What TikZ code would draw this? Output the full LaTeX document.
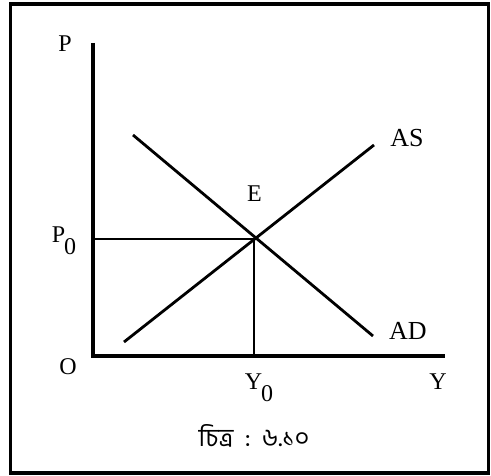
\documentclass[tikz,border=0pt]{standalone}
\usepackage{fontspec}
\setmainfont{Liberation Serif}
\newfontfamily\bnfont[Script=Bengali]{Hind Siliguri}
\begin{document}
\begin{tikzpicture}[x=1pt,y=-1pt,
  lbl/.style={inner sep=0pt,font=\fontsize{24}{24}\selectfont,anchor=base},
  biglbl/.style={lbl,font=\fontsize{26}{26}\selectfont},
  curve/.style={line width=2.8pt},
  axisline/.style={line width=3.2pt},
  guide/.style={line width=2.6pt}]
\useasboundingbox (0,0) rectangle (491,476);
\fill[white] (0,0) rectangle (491,476);
\draw[line width=3.4pt] (10.5,4) rectangle (488.5,473);
% coordinates
\coordinate (o) at (93,356);
\coordinate (ptop) at (93,43);
\coordinate (yend) at (445,356);
\coordinate (e) at (254,239);
\coordinate (p0) at (93,239);
\coordinate (y0) at (254,356);
\coordinate (ads) at (133,135);
\coordinate (ade) at (373,336);
\coordinate (ass) at (124,342);
\coordinate (ase) at (374,145);
% axes
\draw[axisline] (ptop) -- (o) -- (yend);
% guides
\draw[guide] (p0) -- (e) -- (y0);
% curves
\draw[curve] (ads) -- (ade);
\draw[curve] (ass) -- (ase);
% labels
\node[lbl] (lp) at (65,52) {P};
\node[lbl] (lp0) at (64,243) {P\kern-1pt\raisebox{-12pt}{0}};
\node[lbl] (lo) at (68,375) {O};
\node[lbl] (ly0) at (259,390) {Y\kern-1pt\raisebox{-12pt}{0}};
\node[lbl] (ly) at (438,390) {Y};
\node[biglbl] (las) at (407,147) {AS};
\node[biglbl] (lad) at (408,340) {AD};
\node[lbl] (le) at (254.5,202) {E};
\node[inner sep=0pt,font=\bnfont\fontsize{25}{25}\selectfont] (cap) at (254,436) {চিত্র\ \ :\ \ ৬.১০};
\end{tikzpicture}
\end{document}
